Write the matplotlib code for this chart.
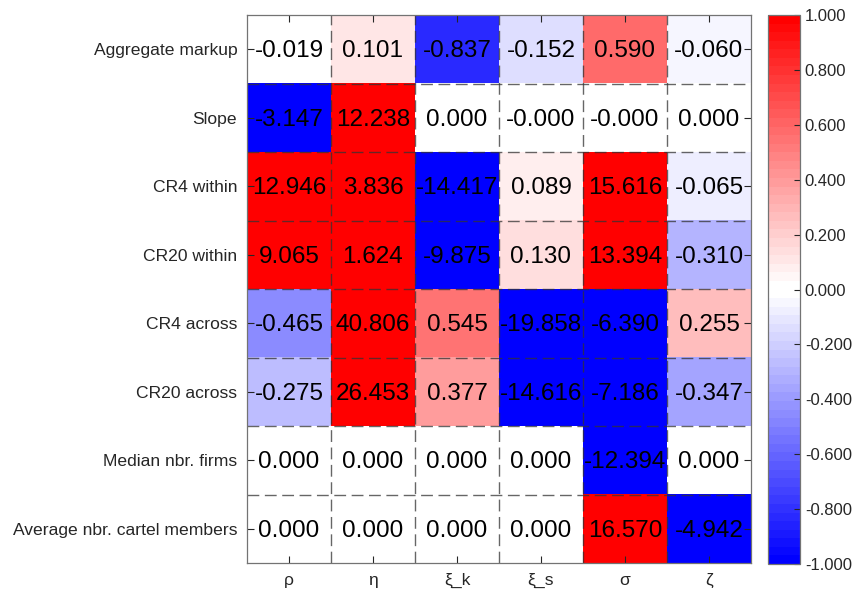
import numpy as np
import matplotlib.pyplot as plt
from matplotlib.colors import ListedColormap
from matplotlib.ticker import FuncFormatter

plt.rcParams['font.family'] = ['Liberation Sans', 'DejaVu Sans']

# Data
rows = ['Aggregate markup', 'Slope', 'CR4 within', 'CR20 within',
        'CR4 across', 'CR20 across', 'Median nbr. firms',
        'Average nbr. cartel members']
cols = ['ρ', 'η', 'ξ_k', 'ξ_s', 'σ', 'ζ']

agg_markup = [-0.019, 0.101, -0.837, -0.152, 0.590, -0.060]
slope = [-3.147, 12.238, 0.000, -0.0, -0.0, 0.000]
cr4_within = [12.946, 3.836, -14.417, 0.089, 15.616, -0.065]
cr20_within = [9.065, 1.624, -9.875, 0.130, 13.394, -0.310]
cr4_across = [-0.465, 40.806, 0.545, -19.858, -6.390, 0.255]
cr20_across = [-0.275, 26.453, 0.377, -14.616, -7.186, -0.347]
median_firms = [0.000, 0.000, 0.000, 0.000, -12.394, 0.000]
avg_cartel = [0.000, 0.000, 0.000, 0.000, 16.570, -4.942]

vals = np.array([agg_markup, slope, cr4_within, cr20_within,
                 cr4_across, cr20_across, median_firms, avg_cartel])

# 64-entry blue-white-red map, white in both middle entries
t = np.linspace(0, 1, 32)[:, None]
blue_half = (1 - t) * np.array([0, 0, 1]) + t * np.array([1, 1, 1])
red_half = (1 - t) * np.array([1, 1, 1]) + t * np.array([1, 0, 0])
cmap = ListedColormap(np.vstack([blue_half, red_half]))
axc = '0.15'

fig = plt.figure(figsize=(8.53, 5.95), dpi=100)
ax = fig.add_axes([247/853, 1 - 563/595, 504/853, 548/595])
im = ax.imshow(np.clip(vals, -1, 1), cmap=cmap, vmin=-1, vmax=1, aspect='auto')

for i in range(vals.shape[0]):
    for j in range(vals.shape[1]):
        ax.text(j, i + 0.03, f'{vals[i, j]:.3f}', ha='center', va='center',
                fontsize=17.5, color='black')

ax.set_xticks(range(len(cols)))
ax.set_xticklabels(cols)
ax.set_yticks(range(len(rows)))
ax.set_yticklabels(rows)
ax.set_xticks(np.arange(0.5, len(cols) - 1, 1), minor=True)
ax.set_yticks(np.arange(0.5, len(rows) - 1, 1), minor=True)
ax.tick_params(which='major', direction='in', length=5, width=0.8, color=axc,
               labelsize=12.6, labelcolor=axc, top=True, right=True, pad=7)
ax.tick_params(which='minor', length=0)
ax.grid(which='minor', linestyle=(0, (8.5, 4)), color='0.2', alpha=0.75, linewidth=1)
for s in ax.spines.values():
    s.set_color('0.45')
    s.set_linewidth(0.9)

cax = fig.add_axes([768/853, 1 - 564/595, 32/853, 549/595])
fmt = FuncFormatter(lambda v, p: f'{v + 0.0:.3f}' if abs(v) > 1e-9 else '0.000')
cb = fig.colorbar(im, cax=cax, ticks=np.linspace(-1, 1, 11), format=fmt)
cb.ax.tick_params(direction='in', length=4, width=0.8, color=axc,
                  labelsize=12, labelcolor=axc)
cb.outline.set_edgecolor('0.45')
cb.outline.set_linewidth(0.9)

plt.savefig('out.png', dpi=100)
